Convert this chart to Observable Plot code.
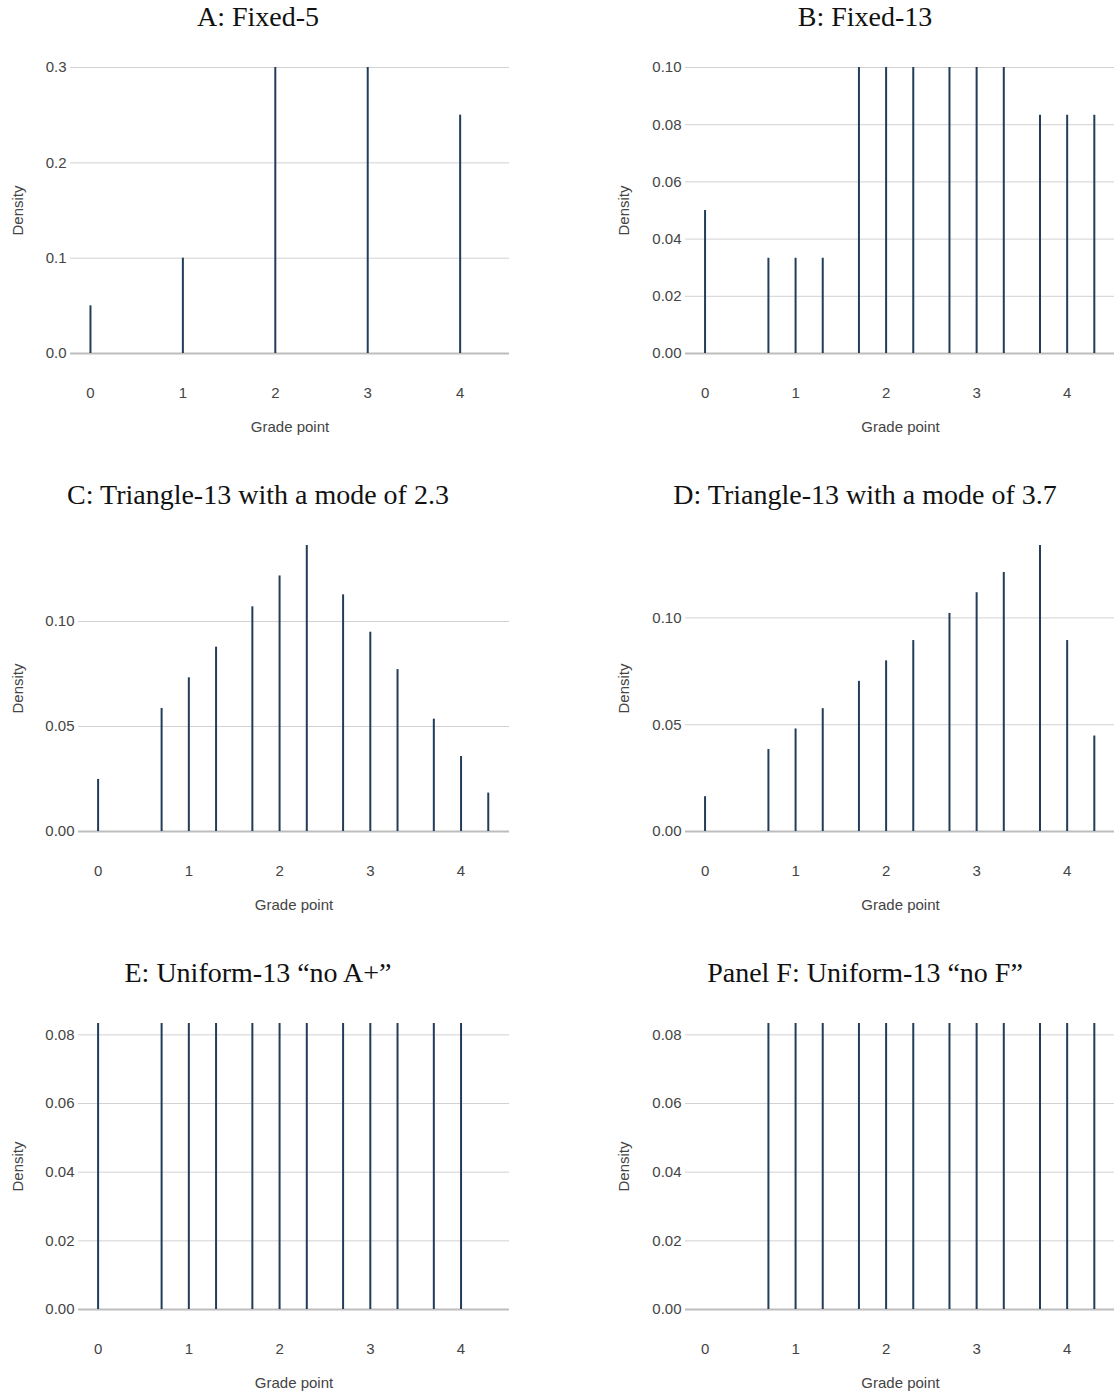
<!DOCTYPE html>
<html>
<head>
<meta charset="utf-8">
<script src="https://cdn.jsdelivr.net/npm/d3@7"></script>
<script src="https://cdn.jsdelivr.net/npm/@observablehq/plot@0.6"></script>
<style>
  html, body { margin: 0; padding: 0; background: #fff; }
  body { width: 1114px; height: 1395px; overflow: hidden; position: relative; }
  .panel { position: absolute; width: 520px; height: 470px; }
  .panel-title {
    position: absolute;
    font-family: "Liberation Serif", "Times New Roman", serif;
    font-size: 28px;
    line-height: 28px;
    color: #111;
    white-space: nowrap;
    transform: translateX(-50%);
  }
</style>
</head>
<body>
<div id="figure"></div>
<script>
// Grade-point scales
const gradePoints5 = [0, 1, 2, 3, 4];
const gradePoints13 = [0, 0.7, 1, 1.3, 1.7, 2, 2.3, 2.7, 3, 3.3, 3.7, 4, 4.3];

// Probability mass at each grade point
const fixed5 = [0.05, 0.10, 0.30, 0.30, 0.25];
const fixed13 = [0.05, 0.0333, 0.0333, 0.0333, 0.10, 0.10, 0.10, 0.10, 0.10, 0.10, 0.0833, 0.0833, 0.0833];
const triangleMode23 = [0.0248, 0.0586, 0.0732, 0.0878, 0.1070, 0.1217, 0.1362, 0.1127, 0.0949, 0.0771, 0.0535, 0.0357, 0.0183];
const triangleMode37 = [0.0163, 0.0384, 0.0480, 0.0575, 0.0703, 0.0799, 0.0894, 0.1021, 0.1118, 0.1213, 0.1339, 0.0894, 0.0447];
const uniformNoAPlus = [0.0833, 0.0833, 0.0833, 0.0833, 0.0833, 0.0833, 0.0833, 0.0833, 0.0833, 0.0833, 0.0833, 0.0833, 0];
const uniformNoF = [0, 0.0833, 0.0833, 0.0833, 0.0833, 0.0833, 0.0833, 0.0833, 0.0833, 0.0833, 0.0833, 0.0833, 0.0833];

// Panel titles and y-axis tick values
const titles = [
  "A: Fixed-5",
  "B: Fixed-13",
  "C: Triangle-13 with a mode of 2.3",
  "D: Triangle-13 with a mode of 3.7",
  "E: Uniform-13 \u201cno A+\u201d",
  "Panel F: Uniform-13 \u201cno F\u201d"
];
const yTicksA = [0, 0.1, 0.2, 0.3];
const yTicksB = [0, 0.02, 0.04, 0.06, 0.08, 0.10];
const yTicksTriangle = [0, 0.05, 0.10];
const yTicksUniform = [0, 0.02, 0.04, 0.06, 0.08];
const xTicks = [0, 1, 2, 3, 4];

const xLabel = "Grade point";
const yLabel = "Density";

const toRows = (grades, values) =>
  grades.map((g, i) => ({grade: g, density: values[i]})).filter(d => d.density > 0);

const panels = [
  {title: titles[0], data: toRows(gradePoints5, fixed5), ticks: yTicksA, fmt: ".1f", ymax: d3.max(fixed5)},
  {title: titles[1], data: toRows(gradePoints13, fixed13), ticks: yTicksB, fmt: ".2f", ymax: d3.max(fixed13)},
  {title: titles[2], data: toRows(gradePoints13, triangleMode23), ticks: yTicksTriangle, fmt: ".2f", ymax: d3.max(triangleMode23)},
  {title: titles[3], data: toRows(gradePoints13, triangleMode37), ticks: yTicksTriangle, fmt: ".2f", ymax: d3.max(triangleMode37)},
  {title: titles[4], data: toRows(gradePoints13, uniformNoAPlus), ticks: yTicksUniform, fmt: ".2f", ymax: d3.max(uniformNoAPlus)},
  {title: titles[5], data: toRows(gradePoints13, uniformNoF), ticks: yTicksUniform, fmt: ".2f", ymax: d3.max(uniformNoF)}
];

const figure = document.getElementById("figure");
const rowStep = 478;
const colLeft = [0, 607];
const barColor = "#223d5a";

panels.forEach((p, i) => {
  const col = i % 2, row = Math.floor(i / 2);
  const wrap = document.createElement("div");
  wrap.className = "panel";
  wrap.style.left = colLeft[col] + "px";
  wrap.style.top = (row * rowStep) + "px";
  figure.appendChild(wrap);

  const title = document.createElement("div");
  title.className = "panel-title";
  title.textContent = p.title;
  title.style.left = "258px";
  title.style.top = "3px";
  wrap.appendChild(title);

  const narrow = p.fmt === ".1f";
  const marginLeft = narrow ? 70 : 78;
  const width = col === 0 ? 520 : 508;
  const marginRight = col === 0 ? 11 : 0;
  const labelX = col === 0 ? 18 : 17;

  const chart = Plot.plot({
    width,
    height: 407,
    marginTop: 22,
    marginBottom: 99,
    marginLeft,
    marginRight,
    style: {
      fontFamily: "'Liberation Sans', Arial, sans-serif",
      fontSize: "15px",
      color: "#444",
      background: "transparent",
      overflow: "visible"
    },
    x: {
      domain: [-0.216, 4.534],
      ticks: xTicks,
      tickFormat: d3.format("d"),
      tickSize: 0,
      tickPadding: 34,
      label: null
    },
    y: {
      domain: [0, p.ymax],
      ticks: p.ticks,
      tickFormat: d3.format(p.fmt),
      tickSize: 0,
      tickPadding: 4,
      label: null
    },
    marks: [
      Plot.ruleY(p.ticks.filter(t => t > 0), {stroke: "#d2d2d2", strokeWidth: 1}),
      Plot.ruleY([0], {stroke: "#bdbdbd", strokeWidth: 2}),
      Plot.ruleX(p.data, {x: "grade", y1: 0, y2: "density", stroke: barColor, strokeWidth: 2}),
      Plot.text([xLabel], {frameAnchor: "bottom", lineAnchor: "middle", textAnchor: "middle", dy: 74, fill: "#444", fontSize: 15}),
      Plot.text([yLabel], {frameAnchor: "left", lineAnchor: "middle", textAnchor: "middle", rotate: -90, dx: labelX - marginLeft, fill: "#444", fontSize: 15})
    ]
  });
  chart.style.position = "absolute";
  chart.style.left = "0px";
  chart.style.top = "45px";
  chart.style.maxWidth = "none";
  chart.style.width = width + "px";
  chart.style.height = "407px";
  wrap.appendChild(chart);
});
</script>
</body>
</html>
